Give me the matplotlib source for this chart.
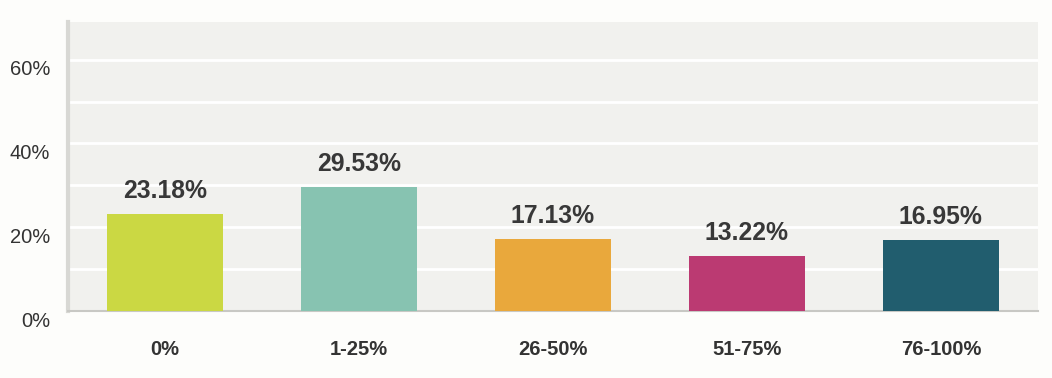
import numpy as np
import matplotlib
matplotlib.use("Agg")
from matplotlib import pyplot as plt
from matplotlib.transforms import ScaledTranslation

categories = ["0%", "1-25%", "26-50%", "51-75%", "76-100%"]
values = [23.18, 29.53, 17.13, 13.22, 16.95]
colors = ["#cbd843", "#87c3b1", "#e9a83c", "#bb3a72", "#215d6e"]
yticks = [0, 20, 40, 60]
ytick_labels = ["0%", "20%", "40%", "60%"]

plt.rcParams['font.family'] = ['Liberation Sans', 'DejaVu Sans']

fig = plt.figure(figsize=(10.52, 3.78), dpi=100, facecolor="#fdfdfb")
ax = fig.add_axes([0.0646, 0.1772, 0.922, 0.7646])
ax.set_facecolor("#f1f1ee")

x = np.arange(len(categories))
ax.bar(x, values, width=0.6, color=colors, zorder=3)

# white grid every 10%
for g in range(10, 70, 10):
    ax.axhline(g, color="white", lw=2, zorder=1)

for xi, v in zip(x, values):
    ax.annotate("{:.2f}%".format(v), (xi, v), xytext=(0, 8),
                textcoords="offset points", ha="center", va="bottom",
                fontsize=17.8, fontweight="bold", color="#383838", zorder=4)

ax.set_xlim(-0.5, len(categories) - 0.5)
ax.set_ylim(0, 69)

ax.set_yticks(yticks)
ax.set_yticklabels(ytick_labels, fontsize=14.5, color="#333333")
ax.tick_params(axis="y", length=0, pad=13)
offset = ScaledTranslation(0, -8 / 100, fig.dpi_scale_trans)
for lab in ax.get_yticklabels():
    lab.set_transform(lab.get_transform() + offset)

ax.set_xticks(x)
ax.set_xticklabels(categories, fontsize=14.5, fontweight="bold", color="#333333")
ax.tick_params(axis="x", length=0, pad=21)

for s in ["top", "right"]:
    ax.spines[s].set_visible(False)
ax.spines["left"].set_color("#d8d8d4")
ax.spines["left"].set_linewidth(3)
ax.spines["bottom"].set_color("#c8c8c4")
ax.spines["bottom"].set_linewidth(1.5)

fig.savefig("out.png", dpi=100, facecolor=fig.get_facecolor())
